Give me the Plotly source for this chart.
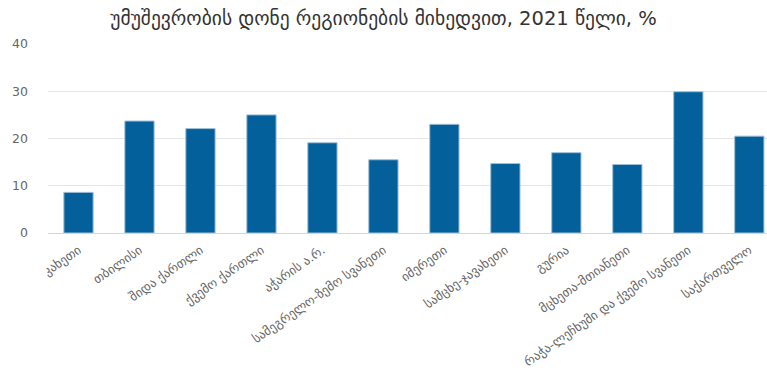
import plotly.graph_objects as go

# Unemployment rate by region, 2021 (%)
regions = [
    "კახეთი",
    "თბილისი",
    "შიდა ქართლი",
    "ქვემო ქართლი",
    "აჭარის ა.რ.",
    "სამეგრელო-ზემო სვანეთი",
    "იმერეთი",
    "სამცხე-ჯავახეთი",
    "გურია",
    "მცხეთა-მთიანეთი",
    "რაჭა-ლეჩხუმი და ქვემო სვანეთი",
    "საქართველო",
]
rates = [8.6, 23.7, 22.1, 25.0, 19.1, 15.5, 23.0, 14.7, 17.0, 14.5, 29.9, 20.5]
y_ticks = [0, 10, 20, 30, 40]

title_text = "უმუშევრობის დონე რეგიონების მიხედვით, 2021 წელი, %"

fig = go.Figure(
    go.Bar(
        x=regions,
        y=rates,
        marker=dict(color="#03609A", line=dict(color="#9fbfd8", width=1)),
        hoverinfo="x+y",
    )
)

fig.update_layout(
    width=767,
    height=371,
    margin=dict(l=48, r=0, t=44, b=138, autoexpand=False),
    paper_bgcolor="white",
    plot_bgcolor="white",
    bargap=0.52,
    showlegend=False,
    font=dict(family="DejaVu Sans, Noto Sans, sans-serif", color="#666666"),
    title=dict(
        text=title_text,
        x=0.5,
        xanchor="center",
        y=0.952,
        yanchor="middle",
        font=dict(size=19.5, color="#333333"),
    ),
)

fig.update_xaxes(
    type="category",
    range=[-0.5, 11.29],
    tickangle=-35,
    tickfont=dict(size=12.6, color="#666666"),
    showgrid=False,
    showline=True,
    linecolor="#ccd6eb",
    linewidth=1,
    ticks="",
    ticklabelstandoff=4,
    automargin=False,
)

fig.update_yaxes(
    range=[0, 40],
    tickvals=y_ticks,
    tickfont=dict(size=12.5, color="#666666"),
    showgrid=True,
    gridcolor="#e6e6e6",
    gridwidth=1,
    zeroline=False,
    showline=False,
    ticklabelstandoff=19,
    automargin=False,
)

fig.write_html("out.html")
